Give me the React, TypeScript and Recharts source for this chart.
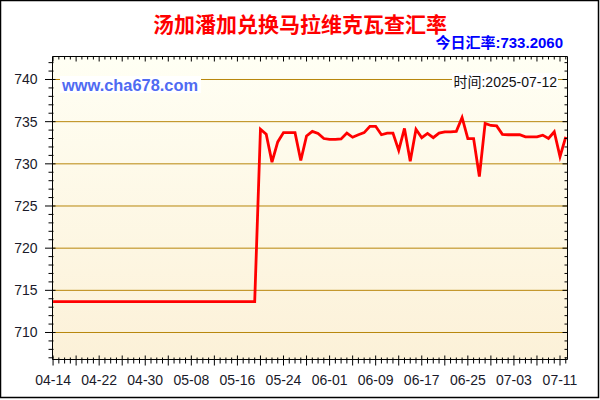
import React from 'react';
import { LineChart, Line, XAxis, YAxis, ReferenceLine, CartesianGrid } from 'recharts';

// Categories: 90 consecutive days starting 2025-04-14
const startMonthDay: [number, number] = [4, 14];
const dayCount = 90;
const monthLengths: Record<number, number> = { 4: 30, 5: 31, 6: 30, 7: 31 };
const dates: string[] = (() => {
  const out: string[] = [];
  let [m, d] = startMonthDay;
  for (let i = 0; i < dayCount; i++) {
    out.push(`${String(m).padStart(2, '0')}-${String(d).padStart(2, '0')}`);
    d += 1;
    if (d > monthLengths[m]) { d = 1; m += 1; }
  }
  return out;
})();

// TOP -> MWK rates
const rates: number[] = [
  713.67, 713.67, 713.67, 713.67, 713.67, 713.67, 713.67, 713.67, 713.67, 713.67,
  713.67, 713.67, 713.67, 713.67, 713.67, 713.67, 713.67, 713.67, 713.67, 713.67,
  713.67, 713.67, 713.67, 713.67, 713.67, 713.67, 713.67, 713.67, 713.67, 713.67,
  713.67, 713.67, 713.67, 713.67, 713.67, 713.67,
  734.1, 733.5, 730.2, 732.6, 733.7, 733.7, 733.7, 730.4, 733.3, 733.85,
  733.6, 733.0, 732.9, 732.9, 732.95, 733.65, 733.15, 733.45, 733.7, 734.45,
  734.45, 733.45, 733.65, 733.65, 731.6, 734.2, 730.3, 734.1, 733.1, 733.6,
  733.1, 733.65, 733.8, 733.8, 733.85, 735.5, 733.0, 733.0, 728.5, 734.8,
  734.55, 734.5, 733.5, 733.45, 733.45, 733.45, 733.2, 733.2, 733.2, 733.4,
  733.0, 733.8, 730.85, 733.206,
];

const xTickLabels: string[] = ['04-14', '04-22', '04-30', '05-08', '05-16', '05-24', '06-01', '06-09', '06-17', '06-25', '07-03', '07-11'];
const yTickLabels: number[] = [710, 715, 720, 725, 730, 735, 740];
const yMinorTicks: number[] = [707, 708, 709, 710, 711, 712, 713, 714, 715, 716, 717, 718, 719, 720, 721, 722, 723, 724, 725, 726, 727, 728, 729, 730, 731, 732, 733, 734, 735, 736, 737, 738, 739, 740, 741, 742];

const titleText = '汤加潘加兑换马拉维克瓦查汇率';
const todayText = '今日汇率:733.2060';
const siteText = 'www.cha678.com';
const timeText = '时间:2025-07-12';

const data = dates.map((date, i) => ({ day: i, date, rate: rates[i] }));
const xTicks = dates.map((_, i) => i);

const FONT = '"Liberation Sans", Arial, "Noto Sans CJK SC", sans-serif';
const CJK = '"Noto Sans CJK SC", "Liberation Sans", sans-serif';

const BottomTick = (props: any) => {
  const { x, y, payload } = props;
  const d = payload.value as number;
  const major = d % 4 === 0;
  const label = dates[d];
  const showLabel = xTickLabels.includes(label);
  return (
    <g>
      <line x1={x} x2={x} y1={major ? y - 4 : y - 2} y2={major ? y + 6 : y + 4} stroke="#000" strokeWidth={1} />
      {showLabel && (
        <text x={x} y={y + 25.5} textAnchor="middle" fontSize={14} fontFamily={FONT} fill="#1a1a2a">{label}</text>
      )}
    </g>
  );
};

const TopTick = (props: any) => {
  const { x, y, payload } = props;
  const d = payload.value as number;
  const major = d % 4 === 0;
  return <line x1={x} x2={x} y1={y} y2={major ? y + 5 : y + 3} stroke="#000" strokeWidth={1} />;
};

const LeftTick = (props: any) => {
  const { x, y, payload } = props;
  const v = payload.value as number;
  const major = yTickLabels.includes(v);
  return (
    <g>
      <line x1={major ? x - 7.5 : x - 4} x2={major ? x + 3 : x + 1} y1={y} y2={y} stroke="#000" strokeWidth={1} />
      {major && (
        <text x={x - 15} y={y + 5} textAnchor="end" fontSize={14} fontFamily={FONT} fill="#1a1a2a">{v}</text>
      )}
    </g>
  );
};

const RightTick = (props: any) => {
  const { x, y, payload } = props;
  const v = payload.value as number;
  const major = yTickLabels.includes(v);
  return <line x1={major ? x - 5 : x - 3} x2={x} y1={y} y2={y} stroke="#000" strokeWidth={1} />;
};

export default function App() {
  return (
    <div style={{ position: 'fixed', left: 0, top: 0, width: 600, height: 400, background: '#fff', overflow: 'hidden' }}>
      <LineChart width={600} height={400} data={data} margin={{ top: 56.5, right: 32.5, bottom: 0, left: 0 }}>
        <defs>
          <linearGradient id="bgGrad" x1="0" y1="0" x2="0" y2="1">
            <stop offset="0" stopColor="#fffff4" />
            <stop offset="1" stopColor="#fcf1d8" />
          </linearGradient>
        </defs>
        <CartesianGrid xAxisId="bottom" yAxisId="left" horizontal={false} vertical={false} fill="url(#bgGrad)" />
        <XAxis xAxisId="bottom" dataKey="day" type="number" domain={[-0.1, 89.3]} ticks={xTicks} interval={0}
          height={40.5} tickSize={0} tickMargin={0} tickLine={false} axisLine={{ stroke: '#000' }} tick={BottomTick} allowDataOverflow />
        <XAxis xAxisId="top" orientation="top" mirror dataKey="day" type="number" domain={[-0.1, 89.3]} ticks={xTicks} interval={0}
          height={10} tickSize={0} tickMargin={0} tickLine={false} axisLine={{ stroke: '#000' }} tick={TopTick} allowDataOverflow />
        <YAxis yAxisId="left" type="number" domain={[706.798, 742.727]} ticks={yMinorTicks} interval={0}
          width={52.5} tickSize={0} tickMargin={0} tickLine={false} axisLine={{ stroke: '#000' }} tick={LeftTick} allowDataOverflow />
        <YAxis yAxisId="right" orientation="right" mirror type="number" domain={[706.798, 742.727]} ticks={yMinorTicks} interval={0}
          width={10} tickSize={0} tickMargin={0} tickLine={false} axisLine={{ stroke: '#000' }} tick={RightTick} allowDataOverflow />
        {yTickLabels.map((v) => (
          <ReferenceLine key={v} xAxisId="bottom" yAxisId="left" y={v} stroke="#b8860b" strokeWidth={1} ifOverflow="extendDomain" />
        ))}
        <Line xAxisId="bottom" yAxisId="left" type="linear" dataKey="rate" stroke="#ff0000" strokeWidth={2.8}
          dot={false} activeDot={false} isAnimationActive={false} />
      </LineChart>
      <svg width={600} height={400} style={{ position: 'absolute', left: 0, top: 0, pointerEvents: 'none' }}>
        <text x={300} y={32} textAnchor="middle" fontSize={21} fontWeight="bold" fontFamily={CJK} fill="#ff0000">{titleText}</text>
        <text x={563} y={48} textAnchor="end" fontSize={15} fontWeight="bold" fontFamily={FONT} fill="#0000ff">{todayText}</text>
        <rect x={60} y={76} width={141} height={17} fill="#ffffff" />
        <text x={62} y={91} fontSize={16.4} fontWeight="bold" fontFamily={FONT} fill="#4f6bf2">{siteText}</text>
        <rect x={452} y={73} width={106} height={16} fill="#ffffff" />
        <text x={557} y={86.5} textAnchor="end" fontSize={14} fontFamily={FONT} fill="#111">{timeText}</text>
        <rect x={0.5} y={0.5} width={598} height={397} fill="none" stroke="#000" strokeWidth={1.5} />
      </svg>
    </div>
  );
}
